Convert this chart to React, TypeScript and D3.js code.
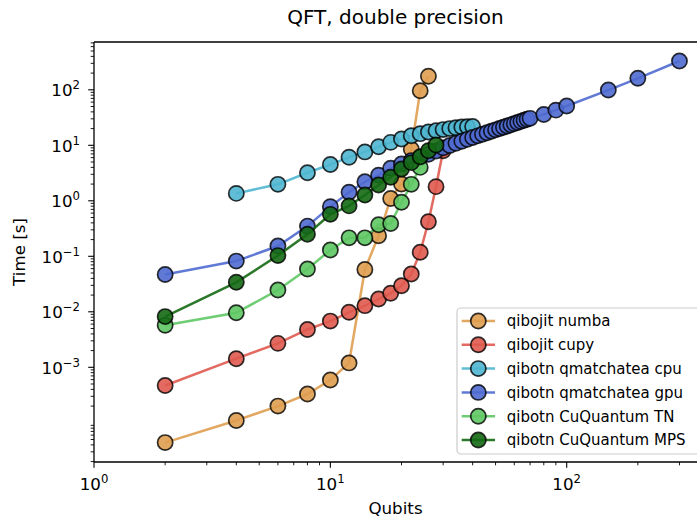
import React from "react";
import * as d3 from "d3";

const qubitsNumba = [2, 4, 6, 8, 10, 12, 14, 16, 18, 20, 22, 24, 26];
const timeNumba = [4.4e-5, 1.1e-4, 2.0e-4, 3.3e-4, 5.9e-4, 1.2e-3, 0.058, 0.235, 1.1, 2.0, 8.5, 96, 175];

const qubitsCupy = [2, 4, 6, 8, 10, 12, 14, 16, 18, 20, 22, 24, 26, 28, 30];
const timeCupy = [4.7e-4, 1.43e-3, 2.7e-3, 4.8e-3, 6.8e-3, 9.8e-3, 0.0129, 0.017, 0.0216, 0.0295, 0.048, 0.118, 0.42, 1.8, 8.0];

const qubitsCpu = [4, 6, 8, 10, 12, 14, 16, 18, 20, 22, 24, 26, 28, 30, 32, 34, 36, 38, 40];
const timeCpu = [1.36, 1.98, 3.2, 4.5, 6.1, 7.6, 9.4, 11.3, 13.0, 14.9, 16.2, 17.4, 18.3, 19.2, 20.0, 20.8, 21.3, 21.6, 21.8];

const qubitsGpu = [2, 4, 6, 8, 10, 12, 14, 16, 18, 20, 22, 24, 26, 28, 30, 32, 34, 36, 38, 40, 42, 44, 46, 48, 50, 52, 54, 56, 58, 60, 62, 64, 66, 68, 70, 80, 90, 100, 150, 200, 300];
const timeGpu = [0.047, 0.082, 0.153, 0.35, 0.785, 1.43, 2.2, 2.9, 3.85, 4.6, 5.3, 6.0, 6.9, 7.9, 9.0, 9.9, 10.9, 11.8, 12.8, 13.8, 14.8, 15.8, 16.8, 17.9, 19.0, 20.1, 21.2, 22.3, 23.4, 24.6, 25.8, 27.0, 28.2, 29.4, 30.6, 36, 43, 51, 99, 161, 330];

const qubitsTN = [2, 4, 6, 8, 10, 12, 14, 16, 18, 20, 22, 24];
const timeTN = [0.0057, 0.0096, 0.0247, 0.059, 0.13, 0.215, 0.215, 0.37, 0.39, 0.94, 1.98, 4.0];

const qubitsMPS = [2, 4, 6, 8, 10, 12, 14, 16, 18, 20, 22, 24, 26, 28];
const timeMPS = [0.0082, 0.034, 0.103, 0.25, 0.57, 0.81, 1.27, 1.93, 2.65, 3.74, 4.87, 6.2, 8.0, 10.1];

const seriesNames = [
  "qibojit numba",
  "qibojit cupy",
  "qibotn qmatchatea cpu",
  "qibotn qmatchatea gpu",
  "qibotn CuQuantum TN",
  "qibotn CuQuantum MPS",
];
const seriesColors = ["#DF9D4F", "#DF5A4F", "#4FB6D0", "#4F6AD0", "#5EC663", "#146914"];

const xTickValues = [1, 10, 100];
const xTickExps = ["0", "1", "2"];
const yTickValues = [1e-3, 1e-2, 1e-1, 1, 10, 100];
const yTickExps = ["\u22123", "\u22122", "\u22121", "0", "1", "2"];

const titleText = "QFT, double precision";
const xLabel = "Qubits";
const yLabel = "Time [s]";

const W = 697;
const H = 519;
const left = 94;
const right = 700;
const top = 42;
const bottom = 462;
const decX = 236.35;
const decY = 55.5;
const y0px = 200.8;

export default function App() {
  const xMax = Math.pow(10, (right - left) / decX);
  const x = d3.scaleLog().domain([1, xMax]).range([left, right]);
  const yTop = Math.pow(10, (y0px - top) / decY);
  const yBot = Math.pow(10, -(bottom - y0px) / decY);
  const y = d3.scaleLog().domain([yBot, yTop]).range([bottom, top]);

  const series = [
    { q: qubitsNumba, t: timeNumba },
    { q: qubitsCupy, t: timeCupy },
    { q: qubitsCpu, t: timeCpu },
    { q: qubitsGpu, t: timeGpu },
    { q: qubitsTN, t: timeTN },
    { q: qubitsMPS, t: timeMPS },
  ];

  const line = d3
    .line<[number, number]>()
    .x((d) => x(d[0]))
    .y((d) => y(d[1]));

  const xMinor: number[] = [];
  for (let d = 0; d < 3; d++) {
    for (let k = 2; k <= 9; k++) {
      const v = k * Math.pow(10, d);
      if (v < xMax) xMinor.push(v);
    }
  }
  const yMinor: number[] = [];
  for (let d = -5; d <= 2; d++) {
    for (let k = 2; k <= 9; k++) {
      const v = k * Math.pow(10, d);
      if (v > yBot && v < yTop) yMinor.push(v);
    }
  }

  const font = "DejaVu Sans, sans-serif";
  const r = 7.6;
  const alpha = 0.9;

  const legX = 457;
  const legY = 308;
  const legRow = 23.8;

  return (
    <svg
      width={W}
      height={H}
      style={{ position: "absolute", left: 0, top: 0 }}
      fontFamily={font}
    >
      <rect x={0} y={0} width={W} height={H} fill="#fff" />
      <defs>
        <clipPath id="plotclip">
          <rect x={left} y={top} width={right - left} height={bottom - top} />
        </clipPath>
      </defs>

      <g clipPath="url(#plotclip)">
        {series.map((s, i) => {
          const pts = s.q.map((q, j) => [q, s.t[j]] as [number, number]);
          return (
            <g key={i}>
              <path
                d={line(pts) || ""}
                fill="none"
                stroke={seriesColors[i]}
                strokeOpacity={alpha}
                strokeWidth={2.5}
              />
              {pts.map((p, j) => (
                <circle
                  key={j}
                  cx={x(p[0])}
                  cy={y(p[1])}
                  r={r}
                  fill={seriesColors[i]}
                  fillOpacity={alpha}
                  stroke="#000"
                  strokeOpacity={0.8}
                  strokeWidth={1.7}
                />
              ))}
            </g>
          );
        })}
      </g>

      {/* spines */}
      <line x1={left} x2={left} y1={top} y2={bottom} stroke="#000" strokeWidth={1.3} />
      <line x1={left} x2={right} y1={bottom} y2={bottom} stroke="#000" strokeWidth={1.3} />
      <line x1={left} x2={right} y1={top} y2={top} stroke="#000" strokeWidth={1.3} />

      {/* x ticks */}
      {xTickValues.map((v, i) => (
        <g key={"xt" + i}>
          <line x1={x(v)} x2={x(v)} y1={bottom} y2={bottom + 5.8} stroke="#000" strokeWidth={1.1} />
          <text x={x(v)} y={490} textAnchor="middle" fontSize={16.7} fill="#000">
            <tspan>10</tspan>
            <tspan fontSize={11.7} dy={-7}>{xTickExps[i]}</tspan>
          </text>
        </g>
      ))}
      {xMinor.map((v, i) => (
        <line key={"xm" + i} x1={x(v)} x2={x(v)} y1={bottom} y2={bottom + 3.3} stroke="#000" strokeWidth={0.9} />
      ))}

      {/* y ticks */}
      {yTickValues.map((v, i) => (
        <g key={"yt" + i}>
          <line x1={left - 5.8} x2={left} y1={y(v)} y2={y(v)} stroke="#000" strokeWidth={1.1} />
          <text x={left - 14} y={y(v) + 6.5} textAnchor="end" fontSize={16.7} fill="#000">
            <tspan>10</tspan>
            <tspan fontSize={11.7} dy={-7}>{yTickExps[i]}</tspan>
          </text>
        </g>
      ))}
      {yMinor.map((v, i) => (
        <line key={"ym" + i} x1={left - 3.3} x2={left} y1={y(v)} y2={y(v)} stroke="#000" strokeWidth={0.9} />
      ))}

      {/* labels */}
      <text x={(left + 697) / 2} y={24} textAnchor="middle" fontSize={20} fill="#000">
        {titleText}
      </text>
      <text x={(left + 697) / 2} y={514} textAnchor="middle" fontSize={16.7} fill="#000">
        {xLabel}
      </text>
      <text
        transform={`translate(25, ${(top + bottom) / 2}) rotate(-90)`}
        textAnchor="middle"
        fontSize={16.7}
        fill="#000"
      >
        {yLabel}
      </text>

      {/* legend */}
      <rect
        x={legX}
        y={legY}
        width={260}
        height={146}
        rx={4}
        fill="#fff"
        fillOpacity={0.8}
        stroke="#ccc"
        strokeWidth={1.2}
      />
      {seriesNames.map((name, i) => {
        const cy = legY + 13 + i * legRow;
        return (
          <g key={"lg" + i}>
            <line x1={461.7} x2={495} y1={cy} y2={cy} stroke={seriesColors[i]} strokeOpacity={alpha} strokeWidth={2.5} />
            <circle cx={478.3} cy={cy} r={r} fill={seriesColors[i]} fillOpacity={alpha} stroke="#000" strokeOpacity={0.8} strokeWidth={1.7} />
            <text x={506.7} y={cy + 5.3} fontSize={15} fill="#000">
              {name}
            </text>
          </g>
        );
      })}
    </svg>
  );
}
